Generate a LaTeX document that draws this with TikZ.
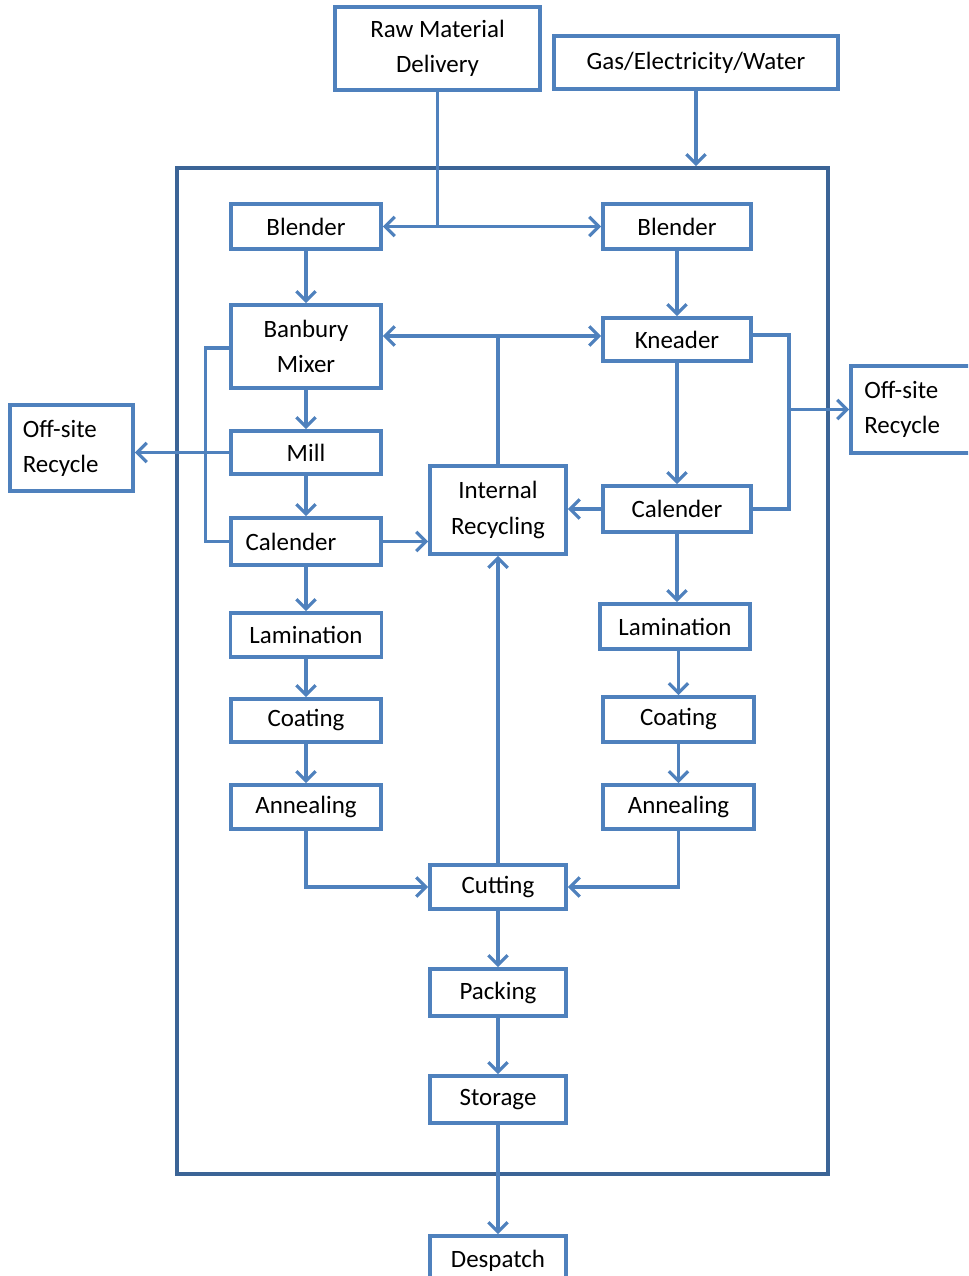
\documentclass[tikz,border=0pt]{standalone}
\usepackage{fontspec}
\setmainfont{Carlito}
\usetikzlibrary{arrows.meta}
\definecolor{bl}{HTML}{4F81BD}
\definecolor{fr}{HTML}{3B6496}
\begin{document}
\begin{tikzpicture}[x=0.02cm,y=-0.02cm,
  box/.style={draw=bl,line width=2.2pt,inner sep=2pt,align=center,font=\fontsize{14.2}{20}\selectfont},
  conn/.style={draw=bl,line width=1.8pt},
  >={Straight Barb[length=5.5pt,width=11pt,line width=1.8pt]}]
\useasboundingbox (0,0) rectangle (968,1276);
\clip (0,0) rectangle (968,1276);
\node[draw=fr,line width=2.2pt,minimum width=13.02cm,minimum height=20.12cm] (frame) at (502.5,671) {};
\node[box,minimum width=4.1cm,minimum height=1.66cm] (raw) at (437.5,48.5) {Raw Material\\Delivery};
\node[box,minimum width=5.68cm,minimum height=1.06cm] (gas) at (696,62.5) {Gas/Electricity/Water};
\node[box,minimum width=3cm,minimum height=0.9cm] (bl1) at (306,226.5) {Blender};
\node[box,minimum width=2.96cm,minimum height=0.9cm] (bl2) at (677,226.5) {Blender};
\node[box,minimum width=3cm,minimum height=1.66cm] (ban) at (306,346.5) {Banbury\\Mixer};
\node[box,minimum width=2.96cm,minimum height=0.86cm] (kn) at (677,339.5) {Kneader};
\node[box,minimum width=3cm,minimum height=0.86cm] (mill) at (306,452.5) {Mill};
\node[box,minimum width=2.46cm,minimum height=1.72cm,align=left] (offL) at (71.5,448) {Off-site\\Recycle\phantom{xx}};
\node[box,minimum width=2.48cm,minimum height=1.74cm,align=left] (offR) at (913,409.5) {Off-site\\Recycle\phantom{xx}};
\node[box,minimum width=2.72cm,minimum height=1.76cm] (ir) at (498,510) {Internal\\Recycling};
\node[box,minimum width=3cm,minimum height=0.94cm] (calL) at (306,541.5) {Calender\hspace{0.6cm}};
\node[box,minimum width=2.96cm,minimum height=0.92cm] (calR) at (677,509) {Calender};
\node[box,minimum width=3.02cm,minimum height=0.88cm] (lamL) at (306,635) {Lamination};
\node[box,minimum width=3cm,minimum height=0.9cm] (lamR) at (675,626.5) {Lamination};
\node[box,minimum width=3cm,minimum height=0.86cm] (coatL) at (306,720.5) {Coating};
\node[box,minimum width=3.02cm,minimum height=0.9cm] (coatR) at (678.5,719.5) {Coating};
\node[box,minimum width=3cm,minimum height=0.88cm] (annL) at (306,807) {Annealing};
\node[box,minimum width=3.02cm,minimum height=0.88cm] (annR) at (678.5,807) {Annealing};
\node[box,minimum width=2.72cm,minimum height=0.88cm] (cut) at (498,887) {Cutting};
\node[box,minimum width=2.72cm,minimum height=0.94cm] (pack) at (498,992.5) {Packing};
\node[box,minimum width=2.72cm,minimum height=0.94cm] (stor) at (498,1099.5) {Storage};
\node[box,minimum width=2.72cm,minimum height=1.0cm] (desp) at (498,1261) {Despatch};
% connectors
\coordinate (jr) at (498,336);
\draw[conn] (raw.south) -- (raw.south |- bl1.east);
\draw[conn,<->] (bl1.east) -- (bl2.west);
\draw[conn,->] (gas.south) -- (gas.south |- frame.north);
\draw[conn,->] (bl1.south) -- (ban.north);
\draw[conn,->] (bl2.south) -- (kn.north);
\draw[conn] (ir.north) -- (jr);
\draw[conn,->] (jr) -- (ban.east |- jr);
\draw[conn,->] (jr) -- (kn.west |- jr);
\draw[conn,->] (ban.south) -- (mill.north);
\draw[conn] ([yshift=-0.03cm]ban.west) -- ++(-24,0) |- (calL.west);
\draw[conn,->] (mill.west) -- (offL.east |- mill.west);
\draw[conn,->] (mill.south) -- (calL.north);
\draw[conn,->] (calL.east) -- (ir.west |- calL.east);
\draw[conn,->] (kn.south) -- (calR.north);
\draw[conn] ([yshift=0.09cm]kn.east) -- ++(36,0) coordinate (kr) |- (calR.east);
\draw[conn,->] (kr |- offR.west) -- (offR.west);
\draw[conn,->] (calR.west) -- (ir.east |- calR.west);
\draw[conn,->] (calL.south) -- (lamL.north);
\draw[conn,->] (lamL.south) -- (coatL.north);
\draw[conn,->] (coatL.south) -- (annL.north);
\draw[conn,->] (calR.south) -- (calR.south |- lamR.north);
\draw[conn,->] (coatR.north |- lamR.south) -- (coatR.north);
\draw[conn,->] (coatR.south) -- (annR.north);
\draw[conn,->] (annL.south) |- (cut.west);
\draw[conn,->] (annR.south) |- (cut.east);
\draw[conn,->] (cut.north) -- (ir.south);
\draw[conn,->] (cut.south) -- (pack.north);
\draw[conn,->] (pack.south) -- (stor.north);
\draw[conn,->] (stor.south) -- (desp.north);
\end{tikzpicture}
\end{document}
